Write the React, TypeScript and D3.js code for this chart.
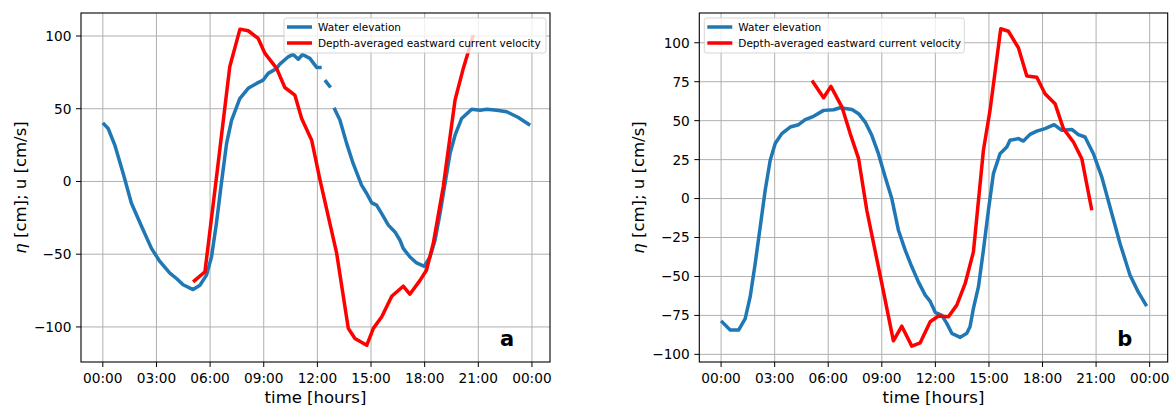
import React from 'react';
import * as d3 from 'd3';

// hours shown on the time axis
const hourTicks = [0, 3, 6, 9, 12, 15, 18, 21, 24];
const yTicksA = [-100, -50, 0, 50, 100];
const yTicksB = [-100, -75, -50, -25, 0, 25, 50, 75, 100];

const legendLabels = ['Water elevation', 'Depth-averaged eastward current velocity'];

// panel a: water elevation (null = gap in record)
const elevATime = [0, 0.3, 0.67, 1.14, 1.6, 2.17, 2.72, 3.19, 3.75, 4.12, 4.49, 5.05, 5.43, 5.8, 6.08, 6.35, 6.63, 6.92, 7.2, 7.66, 8.13, 8.6, 8.97, 9.25, 9.72, 9.9, 10.37, 10.65, 10.93, 11.17, 11.58, 11.96, 12.24, 12.33, 12.42, 12.74, 12.84, 12.93, 13.26, 13.64, 14.0, 14.47, 14.76, 15.04, 15.31, 15.59, 15.97, 16.34, 16.62, 16.8, 17.18, 17.55, 17.98, 18.3, 18.58, 18.86, 19.14, 19.42, 19.7, 20.07, 20.63, 21.1, 21.47, 22.03, 22.59, 23.24, 23.9];
const elevAValue = [40.3, 36.4, 25, 5.5, -15, -31, -46, -55, -63, -66.7, -71, -74.3, -71.3, -64.4, -51.8, -29, -1.4, 26, 42, 57, 64, 67.4, 69.7, 74.3, 77.7, 80.7, 85.7, 87.3, 84, 87.3, 84.6, 78.4, 78.4, null, 69.7, 64.6, null, 50.6, 42.2, 26, 12.4, -2.5, -8.3, -14.7, -16.3, -22, -30, -34.7, -40.4, -46, -51.9, -56, -58.3, -51.9, -40.4, -22, -1.4, 19.3, 31.8, 43.3, 49.7, 49, 49.7, 49, 47.9, 44, 38.7];

// panel a: depth-averaged eastward velocity
const velATime = [5.05, 5.71, 6.36, 7.1, 7.67, 8.13, 8.69, 9.07, 9.72, 10.18, 10.74, 11.12, 11.68, 12.14, 13.08, 13.73, 14.1, 14.76, 15.13, 15.6, 16.16, 16.8, 17.17, 17.74, 18.1, 18.48, 19.04, 19.7, 20.16, 20.72];
const velAValue = [-69, -62.2, 3.2, 78.8, 104.7, 103.6, 98.3, 88, 77.7, 64.6, 59.4, 43.3, 28.4, 1.5, -49.5, -101, -108, -112.6, -101, -93, -78.9, -72, -77.5, -68, -61, -42.6, -3.7, 56, 77.7, 100.6];

// panel b: water elevation
const elevBTime = [0, 0.51, 0.98, 1.35, 1.63, 1.91, 2.19, 2.47, 2.75, 3.03, 3.4, 3.87, 4.34, 4.71, 5.18, 5.74, 6.3, 6.67, 7.33, 7.7, 8.07, 8.44, 8.81, 9.19, 9.56, 9.93, 10.31, 10.68, 11.05, 11.43, 11.71, 11.99, 12.36, 12.64, 12.92, 13.39, 13.76, 13.94, 14.13, 14.41, 14.69, 14.97, 15.25, 15.62, 16, 16.18, 16.65, 16.93, 17.3, 17.68, 18.14, 18.65, 19.08, 19.64, 20.01, 20.38, 20.85, 21.32, 21.78, 22.34, 22.9, 23.36, 23.83];
const elevBValue = [-78.5, -84.4, -84.4, -77, -63, -41.7, -18.2, 5.3, 24.6, 35.3, 41.7, 45.9, 47.4, 50.6, 52.8, 56.6, 57, 58.3, 57.2, 54.5, 49.1, 40.6, 28.8, 13.8, 0, -20.3, -33.1, -43.8, -53.5, -62, -66, -73, -75, -80.1, -86.5, -89.1, -86.5, -82.3, -70.5, -56.7, -33.1, -7.5, 16, 28.8, 33.1, 37.4, 38.5, 36.9, 41.2, 43.3, 44.9, 47.4, 43.8, 44.4, 41, 39.5, 28.8, 13.8, -5.4, -28.8, -49.2, -59.9, -69];

// panel b: depth-averaged eastward velocity
const velBTime = [5.09, 5.74, 6.15, 6.77, 7.23, 7.7, 8.16, 9.0, 9.65, 10.12, 10.68, 11.15, 11.71, 12.17, 12.73, 13.2, 13.67, 14.13, 14.69, 15.06, 15.66, 16.09, 16.65, 17.12, 17.68, 18.14, 18.7, 19.17, 19.73, 20.2, 20.76];
const velBValue = [75.8, 64.7, 72, 58.7, 41.7, 25.6, -7.5, -54.5, -91.3, -81.9, -94.7, -92.6, -79.1, -75.4, -75.9, -68.4, -54.5, -34.2, 31, 56.6, 109, 107.4, 96.8, 78.6, 77.9, 67.3, 60.9, 44.9, 36.3, 25.6, -7.5];

const BLUE = '#1f77b4';
const RED = '#ff0000';
const GRID = '#b0b0b0';

const fmtHour = (h) => `${String(h % 24).padStart(2, '0')}:00`;
const fmtY = (v) => (v < 0 ? `\u2212${Math.abs(v)}` : `${v}`);

function zip(times, values) {
    return times.map((t, i) => ({ t, v: values[i] }));
}

function Panel({ left, right, yDomain, yTicks, elevT, elevV, velT, velV, tag, legendX, legendW }) {
    const top = 13;
    const bottom = 362;
    const x = d3.scaleLinear().domain([-1.22, 25.01]).range([left, right]);
    const y = d3.scaleLinear().domain(yDomain).range([bottom, top]);

    const line = d3.line()
        .defined(d => d.v != null)
        .x(d => x(d.t))
        .y(d => y(d.v));

    const clipId = `clip-${tag}`;

    return (
        <g>
            <defs>
                <clipPath id={clipId}>
                    <rect x={left} y={top} width={right - left} height={bottom - top} />
                </clipPath>
            </defs>

            {/* grid */}
            {hourTicks.map(h => (
                <line key={`gx${h}`} x1={x(h)} x2={x(h)} y1={top} y2={bottom} stroke={GRID} strokeWidth={1} />
            ))}
            {yTicks.map(v => (
                <line key={`gy${v}`} x1={left} x2={right} y1={y(v)} y2={y(v)} stroke={GRID} strokeWidth={1} />
            ))}

            {/* series */}
            <g clipPath={`url(#${clipId})`}>
                <path d={line(zip(elevT, elevV))} fill="none" stroke={BLUE} strokeWidth={3.5} strokeLinejoin="round" />
                <path d={line(zip(velT, velV))} fill="none" stroke={RED} strokeWidth={3.5} strokeLinejoin="round" />
            </g>

            {/* frame */}
            <rect x={left} y={top} width={right - left} height={bottom - top} fill="none" stroke="#000" strokeWidth={1.1} />

            {/* x ticks */}
            {hourTicks.map(h => (
                <g key={`tx${h}`}>
                    <line x1={x(h)} x2={x(h)} y1={bottom} y2={bottom + 5} stroke="#000" strokeWidth={1} />
                    <text x={x(h)} y={382.5} textAnchor="middle" fontSize={13.7} fill="#000">{fmtHour(h)}</text>
                </g>
            ))}

            {/* y ticks */}
            {yTicks.map(v => (
                <g key={`ty${v}`}>
                    <line x1={left - 5} x2={left} y1={y(v)} y2={y(v)} stroke="#000" strokeWidth={1} />
                    <text x={left - 9.5} y={y(v)} dy="0.36em" textAnchor="end" fontSize={13.7} fill="#000">{fmtY(v)}</text>
                </g>
            ))}

            {/* axis labels */}
            <text x={(left + right) / 2} y={402.5} textAnchor="middle" fontSize={16.5} fill="#000">time [hours]</text>
            <text transform={`translate(${left - 55},${(top + bottom) / 2}) rotate(-90)`} textAnchor="middle" fontSize={16.5} fill="#000">
                <tspan fontStyle="italic">η</tspan> [cm]; u [cm/s]
            </text>

            {/* legend */}
            <g transform={`translate(${legendX},18)`}>
                <rect x={0} y={0} width={legendW} height={35} rx={2.5} fill="#fff" fillOpacity={0.8} stroke="#cccccc" strokeOpacity={0.8} strokeWidth={1} />
                {legendLabels.map((lab, i) => (
                    <g key={lab} transform={`translate(0,${9 + i * 16})`}>
                        <line x1={3} x2={28} y1={0} y2={0} stroke={i === 0 ? BLUE : RED} strokeWidth={3.5} />
                        <text x={34} y={0} dy="0.36em" fontSize={10.5} fill="#000">{lab}</text>
                    </g>
                ))}
            </g>

            {/* panel tag */}
            <text x={right - 43} y={346} textAnchor="middle" fontSize={21} fontWeight="bold" fill="#000">{tag}</text>
        </g>
    );
}

export default function App() {
    return (
        <svg width={1171} height={405} style={{ position: 'absolute', left: 0, top: 0, fontFamily: '"DejaVu Sans", sans-serif', background: '#fff' }}>
            <Panel
                left={81} right={550}
                yDomain={[-124.1, 115.8]} yTicks={yTicksA}
                elevT={elevATime} elevV={elevAValue}
                velT={velATime} velV={velAValue}
                tag="a" legendX={284} legendW={262}
            />
            <Panel
                left={699.3} right={1167.7}
                yDomain={[-104.9, 119.1]} yTicks={yTicksB}
                elevT={elevBTime} elevV={elevBValue}
                velT={velBTime} velV={velBValue}
                tag="b" legendX={704.3} legendW={260}
            />
        </svg>
    );
}
